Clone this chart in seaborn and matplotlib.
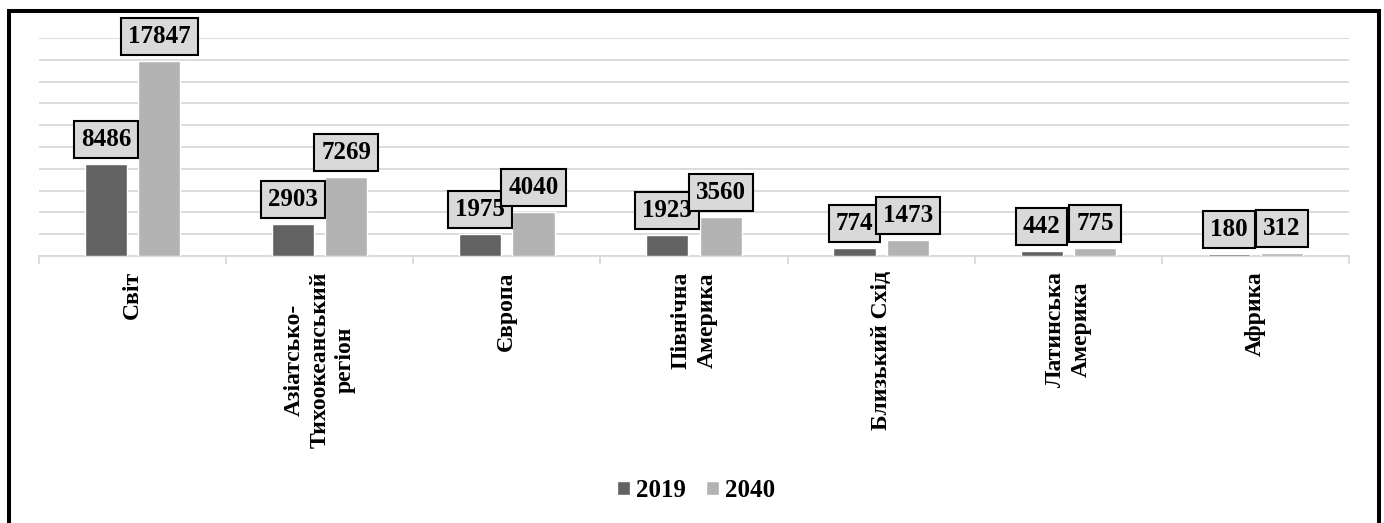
import numpy as np
import pandas as pd
import matplotlib
matplotlib.use("Agg")
import matplotlib.pyplot as plt
import seaborn as sns
from matplotlib.lines import Line2D

regions = ["Світ", "Азіатсько-\nТихоокеанський\nрегіон", "Європа", "Північна\nАмерика",
           "Близький Схід", "Латинська\nАмерика", "Африка"]
years = ["2019", "2040"]
values_2019 = [8486, 2903, 1975, 1923, 774, 442, 180]
values_2040 = [17847, 7269, 4040, 3560, 1473, 775, 312]

df = pd.DataFrame({
    "region": regions * 2,
    "year": [years[0]] * len(regions) + [years[1]] * len(regions),
    "value": values_2019 + values_2040,
})

sns.set_theme(style="white")
plt.rcParams["font.family"] = ["Liberation Serif", "DejaVu Serif"]
plt.rcParams["font.weight"] = "bold"
plt.rcParams["text.color"] = "black"

W, H = 1384, 523
fig = plt.figure(figsize=(W / 100, H / 100), dpi=100)
ax = fig.add_axes([39 / W, 1 - 256 / H, (1349 - 39) / W, (256 - 38) / H])

sns.barplot(data=df, x="region", y="value", hue="year", hue_order=years,
            palette=["#626262", "#b3b3b3"], width=0.57, gap=0.21, saturation=1,
            errorbar=None, ax=ax, zorder=3)

# value labels in grey boxes
for cont in ax.containers:
    for bar in cont:
        h = bar.get_height()
        ax.annotate(f"{h:.0f}", xy=(bar.get_x() + bar.get_width() / 2, h),
                    xytext=(0, 13), textcoords="offset pixels",
                    ha="center", va="bottom", fontsize=18, fontweight="bold", color="black",
                    bbox=dict(boxstyle="square,pad=0.28", fc="#d9d9d9", ec="black", lw=1.5),
                    zorder=5)

ax.set_ylim(0, 20000)
ax.set_xlim(-0.5, 6.5)
ax.set_yticks(np.arange(0, 20001, 2000))
ax.yaxis.grid(True, color="#d9d9d9", lw=1.3, zorder=0)
ax.set_axisbelow(True)
ax.tick_params(axis="y", left=False, labelleft=False)
ax.set_xticks(np.arange(-0.5, 7, 1), minor=True)
ax.tick_params(axis="x", which="major", bottom=False, length=0, pad=11,
               labelsize=17, labelrotation=90, labelcolor="black")
ax.tick_params(axis="x", which="minor", bottom=True, length=6, color="#d9d9d9",
               width=1.3, direction="out")
for lab in ax.get_xticklabels():
    lab.set_multialignment("center")
    lab.set_fontweight("bold")
    lab.set_linespacing(1.3)
ax.set_xlabel("")
ax.set_ylabel("")

for s in ["left", "top", "right"]:
    ax.spines[s].set_visible(False)
ax.spines["bottom"].set_color("#d9d9d9")
ax.spines["bottom"].set_linewidth(1.3)

handles, labels = ax.get_legend_handles_labels()
ax.get_legend().remove()
fig.legend(handles, labels, loc="center", bbox_to_anchor=(0.503, 0.062), ncol=2,
           frameon=False, handlelength=0.5, handleheight=0.5, handletextpad=0.25,
           columnspacing=0.8, prop={"size": 18, "weight": "bold"}, labelcolor="black")

# outer frame (no bottom edge)
xl, xr, yt = 9.3 / W, 1378.7 / W, 1 - 11 / H
fig.add_artist(Line2D([xl, xl, xr, xr], [0, yt, yt, 0], transform=fig.transFigure,
                      color="black", lw=2.9, solid_joinstyle="miter"))

fig.savefig("out.png", dpi=100)
